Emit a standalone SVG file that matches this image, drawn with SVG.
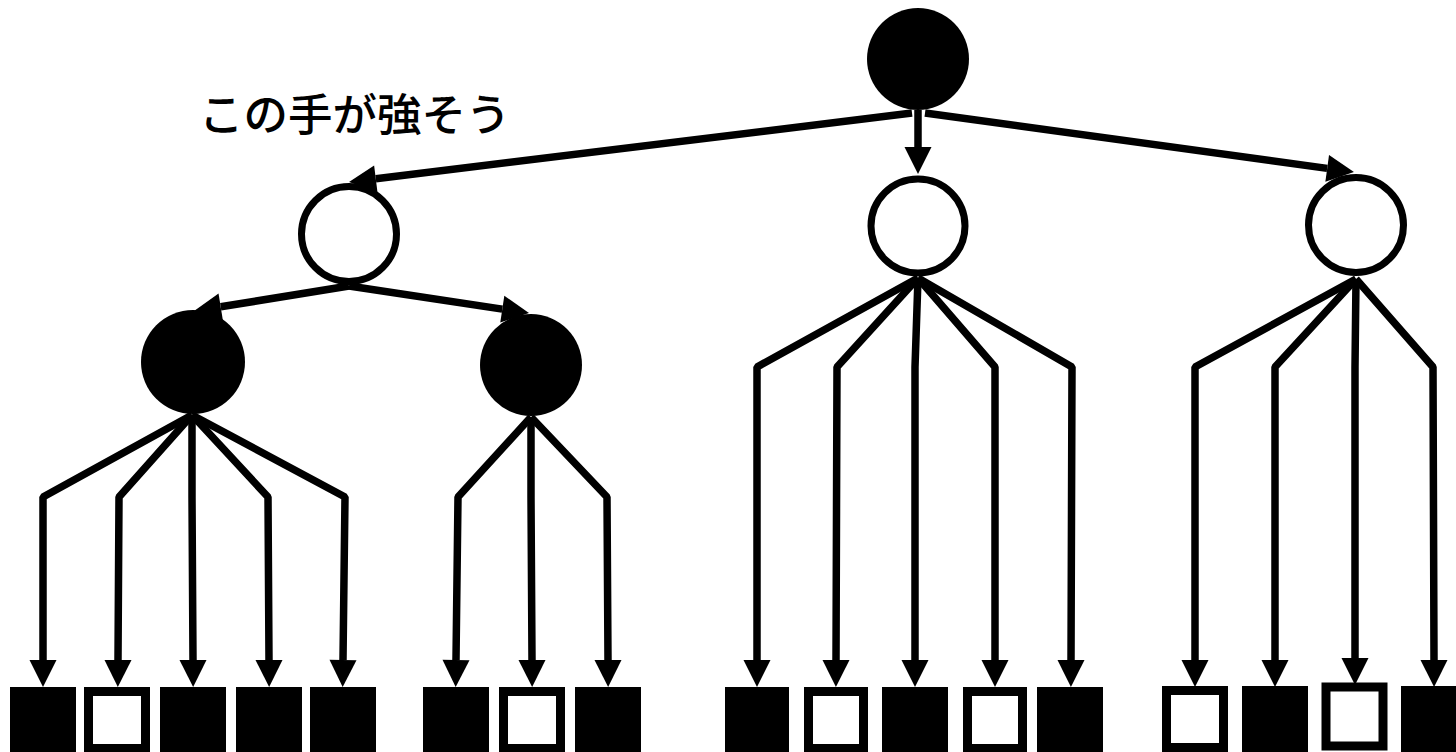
<svg xmlns="http://www.w3.org/2000/svg" width="1456" height="752" viewBox="0 0 1456 752">
<defs>
<style>
.bg{fill:#fff}
.black{fill:#000}
.white{fill:#fff;stroke:#000;stroke-width:7}
.sqb{fill:#000}
.sqw{fill:#fff;stroke:#000;stroke-width:9}
.edge{fill:none;stroke:#000;stroke-width:7.5;stroke-linejoin:bevel;marker-end:url(#ah)}
.lbl{font-family:"Noto Sans CJK JP","Noto Sans",sans-serif;font-size:44.5px;font-weight:500;fill:#000}
</style>
<marker id="ah" markerUnits="userSpaceOnUse" markerWidth="30" markerHeight="30" refX="0" refY="14" orient="auto" overflow="visible">
<path d="M0,0.5 L27,14 L0,27.5 Z" fill="#000"/>
</marker>
</defs>
<rect class="bg" x="0" y="0" width="1456" height="752"/>

<g id="connectors">
<path class="edge" d="M912,113 L375.8,178.8"/>
<path class="edge" d="M918,110 L918,147"/>
<path class="edge" d="M925,113 L1327.2,168.4"/>
<path class="edge" d="M349,286 L220.7,306.8"/>
<path class="edge" d="M349,286 L502.3,309.1"/>

<path class="edge" d="M192,415 L43,497 L43,660"/>
<path class="edge" d="M192,415 L119,497 L118,660"/>
<path class="edge" d="M192,415 L192,497 L193,660"/>
<path class="edge" d="M192,415 L268,497 L269,660"/>
<path class="edge" d="M192,415 L345,497 L343,660"/>

<path class="edge" d="M531,417 L458,497 L456,660"/>
<path class="edge" d="M531,417 L531,497 L532,660"/>
<path class="edge" d="M531,417 L607,497 L608,660"/>

<path class="edge" d="M918,278 L757,367 L757,660"/>
<path class="edge" d="M918,278 L837,367 L836,660"/>
<path class="edge" d="M918,278 L915,367 L915,660"/>
<path class="edge" d="M918,278 L995,367 L995,660"/>
<path class="edge" d="M918,278 L1072,367 L1071,660"/>

<path class="edge" d="M1356,279 L1195,367 L1195,660"/>
<path class="edge" d="M1356,279 L1275,367 L1275,660"/>
<path class="edge" d="M1356,279 L1355,367 L1355,658"/>
<path class="edge" d="M1356,279 L1433,367 L1434,660"/>
</g>

<g id="root"><circle class="black" cx="918" cy="59" r="51"/></g>
<g id="label"><text class="lbl" x="199" y="131">この手が強そう</text></g>

<g id="child-left"><circle class="white" cx="349" cy="234" r="47.5"/></g>
<g id="child-mid"><circle class="white" cx="918" cy="226" r="47"/></g>
<g id="child-right"><circle class="white" cx="1356" cy="225" r="47.5"/></g>

<g id="gc-left"><circle class="black" cx="193" cy="362" r="52"/></g>
<g id="gc-right"><circle class="black" cx="531" cy="365" r="51"/></g>

<g id="leaf-1"><rect class="sqb" x="10" y="687" width="66" height="66"/></g>
<g id="leaf-2"><rect class="sqw" x="88.5" y="691.5" width="57" height="57"/></g>
<g id="leaf-3"><rect class="sqb" x="160" y="687" width="66" height="66"/></g>
<g id="leaf-4"><rect class="sqb" x="236" y="687" width="66" height="66"/></g>
<g id="leaf-5"><rect class="sqb" x="310" y="687" width="66" height="66"/></g>

<g id="leaf-6"><rect class="sqb" x="423" y="687" width="66" height="66"/></g>
<g id="leaf-7"><rect class="sqw" x="503.5" y="691.5" width="57" height="57"/></g>
<g id="leaf-8"><rect class="sqb" x="575" y="687" width="66" height="66"/></g>

<g id="leaf-9"><rect class="sqb" x="725" y="687" width="64" height="66"/></g>
<g id="leaf-10"><rect class="sqw" x="808.5" y="691.5" width="55" height="57"/></g>
<g id="leaf-11"><rect class="sqb" x="882" y="687" width="66" height="66"/></g>
<g id="leaf-12"><rect class="sqw" x="967.5" y="691.5" width="55" height="57"/></g>
<g id="leaf-13"><rect class="sqb" x="1037" y="687" width="66" height="66"/></g>

<g id="leaf-14"><rect class="sqw" x="1166.5" y="690.5" width="57" height="57"/></g>
<g id="leaf-15"><rect class="sqb" x="1242" y="686" width="66" height="66"/></g>
<g id="leaf-16"><rect class="sqw" x="1326" y="687" width="57" height="59"/></g>
<g id="leaf-17"><rect class="sqb" x="1401" y="686" width="66" height="66"/></g>
</svg>
